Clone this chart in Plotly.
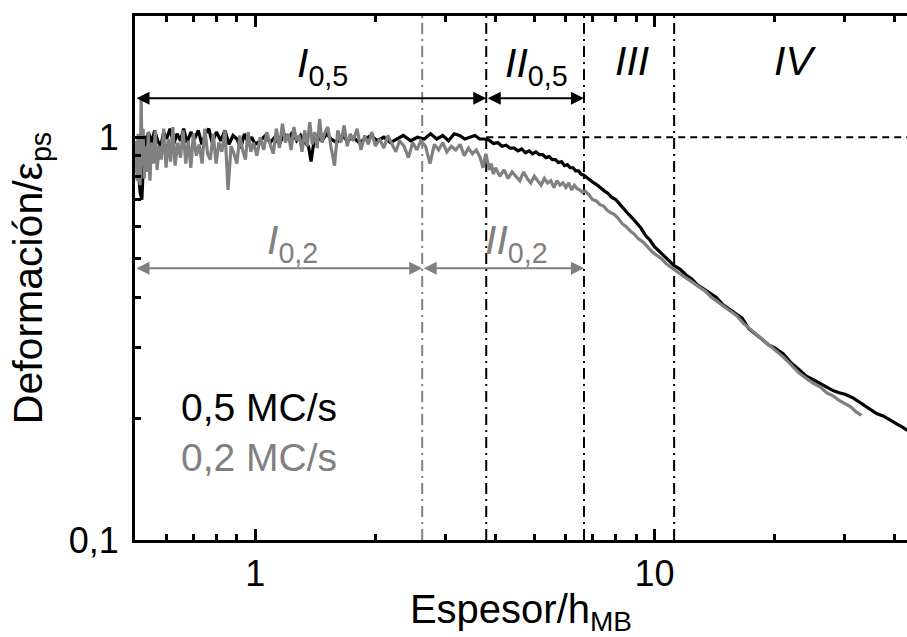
import numpy as np
import plotly.graph_objects as go

# ---------------- data ----------------
# 0,5 MC/s (black)
bx_low = [0.500,0.505,0.510,0.515,0.520,0.525,0.530,0.535,0.540,
          0.550,0.560,0.570,0.580,0.590,0.600,
          0.612,0.625,0.637,0.650,0.662,0.675,
          0.690,0.705,0.720,0.735,0.750,0.765,0.780,
          0.800,0.820,0.840,0.860,0.880,0.900,0.920,0.940,0.960,0.980,1.000]
by_low = [0.96,0.90,0.82,0.73,0.70,0.86,1.01,0.95,1.03,
          0.97,1.04,0.98,0.95,1.03,0.99,
          1.05,0.96,1.02,0.98,1.05,0.97,
          1.03,0.99,1.04,0.96,1.02,1.05,0.97,
          1.03,0.98,1.04,0.96,1.01,0.99,0.94,1.02,0.97,1.00,0.96]
bx_mid = [1.03,1.06,1.09,1.12,1.15,1.18,1.21,1.24,1.27,1.30,1.33,1.36,
          1.38,1.40,1.43,1.47,1.51,1.55,
          1.60,1.65,1.70,1.76,1.82,1.88,1.95,
          2.02,2.10,2.18,2.26,2.35,2.45,2.55,2.65,2.75,2.85,2.95,
          3.05,3.15,3.25,3.35,3.45,3.55,3.65,3.75]
by_mid = [0.98,1.01,0.97,1.00,0.96,1.02,0.99,1.03,0.98,1.01,0.97,0.95,
          0.87,0.96,1.00,0.98,1.02,0.99,
          0.97,1.01,0.98,1.00,0.97,0.99,1.01,
          0.98,1.00,0.97,0.99,1.01,0.98,1.00,0.99,1.02,0.99,1.01,
          0.98,1.02,1.01,0.99,1.00,1.01,0.99,0.99]
bx_high = [3.85,3.95,4.05,4.15,4.25,4.35,4.45,4.55,4.65,4.75,
           4.85,4.95,5.05,5.15,5.25,5.35,5.45,5.55,5.65,5.75,
           5.85,5.95,6.05,6.15,6.25,6.35,6.45,6.55,6.65,6.75,
           6.9,7.05,7.2,7.35,7.5,7.65,7.8,8.0,8.2,8.4,
           8.6,8.8,9.0,9.25,9.5,9.75,10.0,10.3,10.6,10.9,
           11.2,11.6,12.0,12.4,12.8,13.3,13.8,14.3,14.8,15.4,
           16.0,16.6,17.2,17.9,18.6,19.3,20.0,21.0,22.0,23.0,
           24.0,25.0,26.0,27.0,28.0,29.0,30.0,31.5,33.0,34.5,
           36.0,37.5,39.0,40.5,42.0,43.0]
by_high = [0.985,0.965,0.97,0.95,0.955,0.94,0.94,0.925,0.935,0.915,
           0.925,0.91,0.92,0.905,0.905,0.89,0.895,0.88,0.88,0.865,
           0.87,0.85,0.855,0.84,0.84,0.825,0.825,0.81,0.805,0.795,
           0.785,0.77,0.76,0.745,0.735,0.725,0.71,0.70,0.68,0.66,
           0.645,0.63,0.615,0.595,0.57,0.555,0.535,0.52,0.505,0.49,
           0.48,0.47,0.455,0.445,0.43,0.42,0.41,0.40,0.385,0.375,
           0.365,0.355,0.335,0.325,0.315,0.305,0.30,0.29,0.275,0.265,
           0.255,0.25,0.245,0.24,0.235,0.232,0.23,0.225,0.218,0.212,
           0.206,0.203,0.198,0.194,0.19,0.187]

# 0,2 MC/s (grey)
gx_low = [0.500,0.503,0.506,0.509,0.512,0.515,0.518,0.521,0.524,0.527,0.530,
          0.535,0.540,0.545,0.550,0.556,0.562,0.568,0.575,0.582,
          0.590,0.598,0.606,0.614,0.622,0.630,
          0.640,0.650,0.660,0.670,0.680,0.690,0.700,
          0.712,0.724,0.736,0.748,0.760,0.772,
          0.785,0.798,0.811,0.825,
          0.840,0.855,0.870,0.885,0.900,0.915,0.930,0.945,0.960,0.975,0.990]
gy_low = [0.82,0.98,0.78,1.02,0.80,0.76,1.25,0.85,1.05,0.79,0.95,
          0.82,1.03,0.78,0.97,0.86,1.04,0.83,0.95,0.88,
          1.05,0.84,0.99,0.87,1.06,0.85,
          0.97,0.89,1.04,0.86,0.98,0.84,1.02,
          0.90,0.96,0.86,1.05,0.91,0.88,
          1.02,0.86,0.97,0.92,
          1.04,0.74,0.95,0.91,0.86,1.01,0.93,0.88,1.03,0.92,0.97]
gx_mid = [1.01,1.03,1.05,1.07,1.09,1.11,1.13,1.15,1.17,1.19,
          1.21,1.23,1.25,1.27,1.29,1.31,1.33,1.35,1.37,1.39,
          1.41,1.43,1.45,1.47,1.49,
          1.52,1.55,1.58,1.61,1.64,1.67,1.70,1.73,1.76,
          1.80,1.84,1.88,1.92,1.96,2.00,
          2.05,2.10,2.15,2.20,2.25,2.30,
          2.36,2.42,2.48,2.54,2.60,
          2.67,2.74,2.81,2.88,2.95,3.02,
          3.10,3.18,3.26,3.34,3.42,3.50,3.58,3.66,
          3.72,3.78]
gy_mid = [0.90,1.00,0.93,1.03,0.96,0.91,1.05,0.94,1.08,0.97,
          1.02,0.93,1.06,0.98,1.01,0.92,1.04,0.95,1.09,0.96,
          1.03,0.94,1.11,0.97,1.02,
          1.06,0.94,0.85,1.04,0.97,1.07,0.95,1.02,0.98,
          1.05,0.93,1.01,0.96,1.03,0.95,
          0.99,0.94,1.01,0.96,0.92,0.98,
          0.95,0.89,0.97,0.93,0.98,
          0.95,0.86,0.96,0.93,0.97,0.92,
          0.95,0.93,0.96,0.90,0.94,0.91,0.93,0.89,
          0.84,0.91]
gx_high = [3.82,3.86,3.9,3.95,4.0,
           4.1,4.2,4.3,4.4,4.5,4.6,4.7,4.8,4.9,5.0,
           5.1,5.2,5.3,5.4,5.5,5.6,5.7,5.8,5.9,6.0,6.1,6.2,6.3,6.4,6.5,6.6,6.7,
           6.85,7.0,7.15,7.3,7.45,7.6,7.75,7.9,
           8.1,8.3,8.5,8.7,8.9,9.1,
           9.35,9.6,9.85,10.1,
           10.4,10.7,11.0,11.3,
           11.7,12.1,12.5,12.9,
           13.4,13.9,14.4,14.9,
           15.5,16.1,16.7,17.3,
           18.0,18.7,19.4,20.1,
           21.0,22.0,23.0,24.0,25.0,26.0,27.0,28.0,29.0,30.0,31.0,32.0,33.0]
gy_high = [0.87,0.83,0.86,0.81,0.84,
           0.80,0.83,0.79,0.82,0.80,0.78,0.82,0.79,0.77,0.80,
           0.78,0.76,0.79,0.77,0.78,0.75,0.78,0.76,0.77,0.75,0.77,0.74,0.76,0.745,0.74,0.73,0.735,
           0.72,0.70,0.695,0.68,0.675,0.66,0.65,0.645,
           0.63,0.61,0.60,0.585,0.575,0.56,
           0.55,0.535,0.52,0.51,
           0.50,0.485,0.475,0.465,
           0.455,0.445,0.435,0.425,
           0.415,0.40,0.39,0.38,
           0.37,0.36,0.345,0.335,
           0.325,0.315,0.305,0.295,
           0.285,0.272,0.26,0.252,0.245,0.24,0.232,0.228,0.222,0.218,0.214,0.208,0.204]

x_black = bx_low + bx_mid + bx_high
y_black = by_low + by_mid + by_high
x_grey = gx_low + gx_mid + gx_high
y_grey = gy_low + gy_mid + gy_high

# regime boundaries
b_I_02 = 2.62     # grey boundary I/II (0,2 MC/s)
b_I_05 = 3.79     # black boundary I/II (0,5 MC/s)
b_II = 6.66       # end of II
b_III = 11.2      # end of III
arrow_y_05 = 1.25
arrow_y_02 = 0.473

x_min, x_max = 0.5, 42.9
y_min, y_max = 0.1, 2.0

x_ticks = [1, 10]
x_ticktext = ["1", "10"]
x_minor = [0.6, 0.7, 0.8, 0.9, 2, 3, 4, 5, 6, 7, 8, 9, 20, 30, 40]
y_ticks = [0.1, 1]
y_ticktext = ["0,1", "1"]
y_minor = [0.2, 0.3, 0.4, 0.5, 0.6, 0.7, 0.8, 0.9, 2]

BLACK = "#000000"
GREY = "#808080"
FONT = "Liberation Sans, Arial, sans-serif"

fig = go.Figure()

# vertical boundary lines
for xv, col in [(b_I_02, GREY), (b_I_05, BLACK), (b_II, BLACK), (b_III, BLACK)]:
    fig.add_trace(go.Scatter(x=[xv, xv], y=[y_min, y_max], mode="lines",
                             line=dict(color=col, width=2, dash="11px,5px,2px,5px"),
                             showlegend=False, hoverinfo="skip"))
# horizontal dashed line at 1
fig.add_trace(go.Scatter(x=[b_I_05, 60], y=[1, 1], mode="lines",
                         line=dict(color=BLACK, width=2, dash="7px,5px"),
                         showlegend=False, hoverinfo="skip"))

fig.add_trace(go.Scatter(x=x_black, y=y_black, mode="lines",
                         line=dict(color=BLACK, width=3.2), name="0,5 MC/s", showlegend=False))
fig.add_trace(go.Scatter(x=x_grey, y=y_grey, mode="lines",
                         line=dict(color=GREY, width=3.2), name="0,2 MC/s", showlegend=False))

L = np.log10
annotations = []
# double-headed arrows
for (x0, x1, yv, col) in [(x_min, b_I_05, arrow_y_05, BLACK), (b_I_05, b_II, arrow_y_05, BLACK),
                          (x_min, b_I_02, arrow_y_02, GREY), (b_I_02, b_II, arrow_y_02, GREY)]:
    annotations.append(dict(x=L(x1), y=L(yv), ax=L(x0), ay=L(yv), xref="x", yref="y",
                            axref="x", ayref="y", text="", showarrow=True,
                            arrowside="end+start", arrowhead=2, arrowsize=1.3,
                            arrowwidth=2, arrowcolor=col, standoff=0, startstandoff=0))

def label(txt, xv, yv, col, size=41):
    annotations.append(dict(x=L(xv), y=L(yv), xref="x", yref="y", text=txt, showarrow=False,
                            font=dict(family=FONT, size=size, color=col),
                            xanchor="center", yanchor="middle"))

label("<i>I</i><sub>0,5</sub>", 1.47, 1.50, BLACK)
label("<i>II</i><sub>0,5</sub>", 5.05, 1.50, BLACK)
label("<i>III</i>", 8.78, 1.55, BLACK)
label("<i>IV</i>", 22.5, 1.55, BLACK)
label("<i>I</i><sub>0,2</sub>", 1.24, 0.545, GREY)
label("<i>II</i><sub>0,2</sub>", 4.5, 0.545, GREY)

annotations.append(dict(x=L(0.646), y=L(0.213), xref="x", yref="y", text="0,5 MC/s",
                        showarrow=False, xanchor="left", yanchor="middle",
                        font=dict(family=FONT, size=39, color=BLACK)))
annotations.append(dict(x=L(0.646), y=L(0.160), xref="x", yref="y", text="0,2 MC/s",
                        showarrow=False, xanchor="left", yanchor="middle",
                        font=dict(family=FONT, size=39, color=GREY)))

fig.update_layout(
    width=907, height=637,
    margin=dict(l=135, r=0, t=16, b=97),
    paper_bgcolor="white", plot_bgcolor="white",
    showlegend=False,
    annotations=annotations,
    font=dict(family=FONT, color=BLACK),
)
fig.update_xaxes(
    type="log", range=[L(x_min), L(x_max)],
    tickmode="array", tickvals=x_ticks, ticktext=x_ticktext,
    ticks="inside", ticklen=11, tickwidth=2.5, tickcolor=BLACK,
    minor=dict(tickmode="array", tickvals=x_minor, ticks="inside", ticklen=6,
               tickwidth=2.5, tickcolor=BLACK, showgrid=False),
    showline=True, linewidth=3, linecolor=BLACK, mirror="ticks",
    showgrid=False, zeroline=False,
    tickfont=dict(family=FONT, size=36, color=BLACK),
    title=dict(text="Espesor/h<sub>MB</sub>", font=dict(family=FONT, size=40, color=BLACK), standoff=8),
)
fig.update_yaxes(
    type="log", range=[L(y_min), L(y_max)],
    tickmode="array", tickvals=y_ticks, ticktext=y_ticktext,
    ticks="inside", ticklen=11, tickwidth=2.5, tickcolor=BLACK,
    minor=dict(tickmode="array", tickvals=y_minor, ticks="inside", ticklen=6,
               tickwidth=2.5, tickcolor=BLACK, showgrid=False),
    showline=True, linewidth=3, linecolor=BLACK, mirror=False,
    showgrid=False, zeroline=False, ticklabelstandoff=6,
    tickfont=dict(family=FONT, size=36, color=BLACK),
    title=dict(text="Deformación/ε<sub>ps</sub>", font=dict(family=FONT, size=41, color=BLACK), standoff=14),
)

fig.write_html("out.html")
